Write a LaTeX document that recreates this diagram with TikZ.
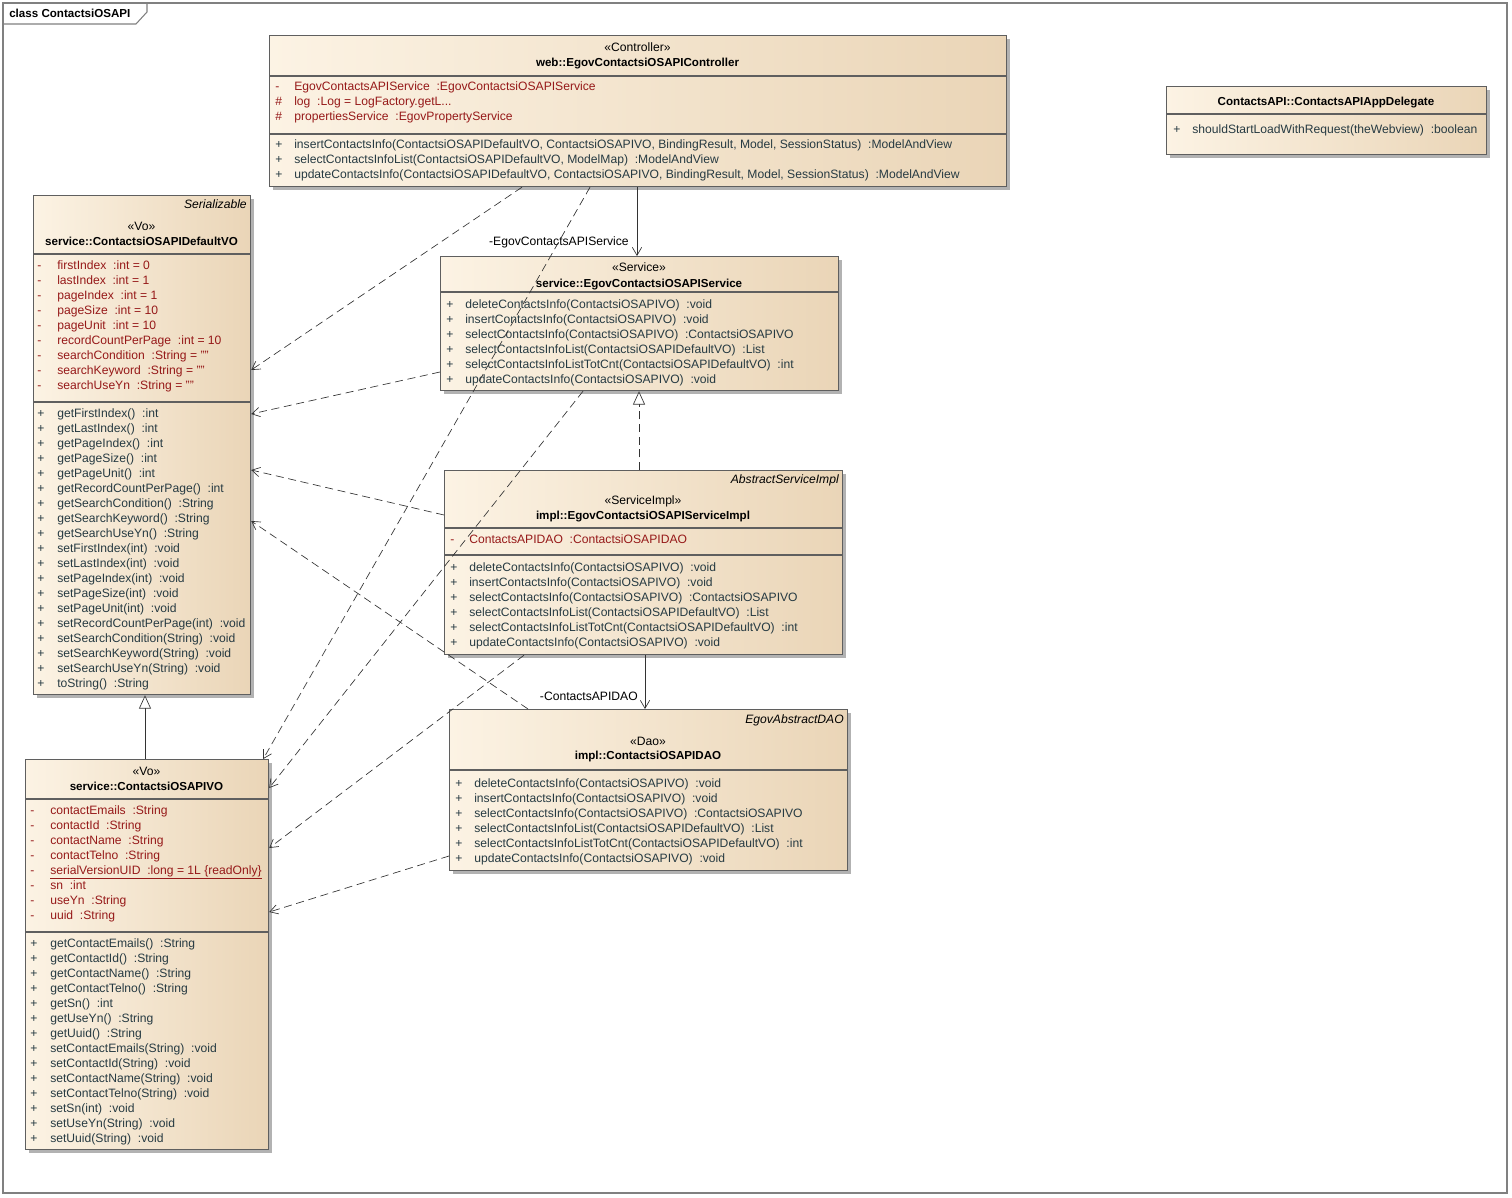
\documentclass[tikz,border=0pt]{standalone}
\usepackage{fontspec}
\setmainfont{Liberation Sans}
\usetikzlibrary{arrows.meta,positioning,calc,shadows}
\newdimen\upx \upx=0.75pt
\definecolor{attrred}{RGB}{150,25,25}
\definecolor{opgray}{RGB}{38,58,66}
\definecolor{boxleft}{RGB}{252,243,228}
\definecolor{boxright}{RGB}{234,213,183}
\definecolor{rulegray}{RGB}{95,95,95}

\begin{document}
\begin{tikzpicture}[x=0.75pt,y=-0.75pt,>=Latex,font=\fontsize{9.1}{11}\selectfont]
  \tikzstyle{cls}=[draw=rulegray,line width=0.9pt,anchor=north west,inner sep=0pt,left color=boxleft,right color=boxright,drop shadow={shadow xshift=2.2pt,shadow yshift=-2.2pt,fill=black,opacity=0.3}]
  \tikzstyle{sep}=[draw=rulegray,line width=0.9pt]
  \tikzstyle{hd}=[anchor=base,inner sep=0pt]
  \tikzstyle{nm}=[anchor=base,inner sep=0pt,font=\fontsize{8.7}{11}\selectfont\bfseries]
  \tikzstyle{abs}=[anchor=base east,inner sep=0pt,font=\fontsize{9.1}{11}\selectfont\itshape]
  \tikzstyle{attr}=[anchor=base west,inner sep=0pt,text=attrred]
  \tikzstyle{oper}=[anchor=base west,inner sep=0pt,text=opgray]
  \tikzstyle{lbl}=[anchor=base east,inner sep=0pt]
  \tikzstyle{dep}=[draw=black!80,line width=0.5pt,dash pattern=on 6pt off 3.5pt,-{Straight Barb[length=6pt,width=7pt]}]
  \tikzstyle{assoc}=[draw=black!80,line width=0.5pt,-{Straight Barb[length=6pt,width=7pt]}]
  \useasboundingbox (0,0) rectangle (1512,1198);

  % frame
  \draw[gray,line width=0.8pt] (3,3) rectangle (1507,1193);
  \draw[gray,line width=0.8pt] (3,24) -- (136,24) -- (147,12) -- (147,3);
  \node[anchor=base west,inner sep=0pt,font=\fontsize{8.7}{11}\selectfont\bfseries] (title) at (9,18) {class ContactsiOSAPI};

  % controller
  \node[cls,minimum width=737\upx,minimum height=151\upx] (ctrl) at (269,35) {};
  \draw[sep] (ctrl.west |- 0,76) -- (ctrl.east |- 0,76);
  \draw[sep] (ctrl.west |- 0,134) -- (ctrl.east |- 0,134);
  \node[hd] (ctrlst) at (637.5,52) {«Controller»};
  \node[nm] (ctrlnm) at (637.5,67) {web::EgovContactsiOSAPIController};
  \foreach \v/\t [count=\i] in {-/{EgovContactsAPIService ~:EgovContactsiOSAPIService},\#/{log ~:Log = LogFactory.getL...},\#/{propertiesService ~:EgovPropertyService}}
    \node[attr] (ctrla\i) at (275,76+15*\i) {\makebox[19\upx][l]{\v}\t};
  \foreach \t [count=\i] in {{insertContactsInfo(ContactsiOSAPIDefaultVO, ContactsiOSAPIVO, BindingResult, Model, SessionStatus) ~:ModelAndView},{selectContactsInfoList(ContactsiOSAPIDefaultVO, ModelMap) ~:ModelAndView},{updateContactsInfo(ContactsiOSAPIDefaultVO, ContactsiOSAPIVO, BindingResult, Model, SessionStatus) ~:ModelAndView}}
    \node[oper] (ctrlo\i) at (275,134+15*\i) {\makebox[19\upx][l]{+}\t};

  % app delegate
  \node[cls,minimum width=320\upx,minimum height=68\upx] (app) at (1166,86) {};
  \draw[sep] (app.west |- 0,114) -- (app.east |- 0,114);
  \node[nm] (appnm) at (1326,106) {ContactsAPI::ContactsAPIAppDelegate};
  \node[oper] (appo1) at (1173,134) {\makebox[19\upx][l]{+}shouldStartLoadWithRequest(theWebview) ~:boolean};

  % default VO
  \node[cls,minimum width=217\upx,minimum height=499\upx] (dvo) at (33,195) {};
  \draw[sep] (dvo.west |- 0,254) -- (dvo.east |- 0,254);
  \draw[sep] (dvo.west |- 0,402) -- (dvo.east |- 0,402);
  \node[abs] (dvoab) at (247,209) {Serializable};
  \node[hd] (dvost) at (141.5,231) {«Vo»};
  \node[nm] (dvonm) at (141.5,246) {service::ContactsiOSAPIDefaultVO};
  \foreach \t [count=\i] in {{firstIndex ~:int = 0},{lastIndex ~:int = 1},{pageIndex ~:int = 1},{pageSize ~:int = 10},{pageUnit ~:int = 10},{recordCountPerPage ~:int = 10},{searchCondition ~:String = ""},{searchKeyword ~:String = ""},{searchUseYn ~:String = ""}}
    \node[attr] (dvoa\i) at (37,254+15*\i) {\makebox[20\upx][l]{-}\t};
  \foreach \t [count=\i] in {{getFirstIndex() ~:int},{getLastIndex() ~:int},{getPageIndex() ~:int},{getPageSize() ~:int},{getPageUnit() ~:int},{getRecordCountPerPage() ~:int},{getSearchCondition() ~:String},{getSearchKeyword() ~:String},{getSearchUseYn() ~:String},{setFirstIndex(int) ~:void},{setLastIndex(int) ~:void},{setPageIndex(int) ~:void},{setPageSize(int) ~:void},{setPageUnit(int) ~:void},{setRecordCountPerPage(int) ~:void},{setSearchCondition(String) ~:void},{setSearchKeyword(String) ~:void},{setSearchUseYn(String) ~:void},{toString() ~:String}}
    \node[oper] (dvoo\i) at (37,402+15*\i) {\makebox[20\upx][l]{+}\t};

  % service
  \node[cls,minimum width=398\upx,minimum height=134\upx] (svc) at (440,256) {};
  \draw[sep] (svc.west |- 0,292) -- (svc.east |- 0,292);
  \node[hd] (svcst) at (639,272) {«Service»};
  \node[nm] (svcnm) at (639,287) {service::EgovContactsiOSAPIService};
  \foreach \t [count=\i] in {{deleteContactsInfo(ContactsiOSAPIVO) ~:void},{insertContactsInfo(ContactsiOSAPIVO) ~:void},{selectContactsInfo(ContactsiOSAPIVO) ~:ContactsiOSAPIVO},{selectContactsInfoList(ContactsiOSAPIDefaultVO) ~:List},{selectContactsInfoListTotCnt(ContactsiOSAPIDefaultVO) ~:int},{updateContactsInfo(ContactsiOSAPIVO) ~:void}}
    \node[oper] (svco\i) at (446,293+15*\i) {\makebox[19\upx][l]{+}\t};

  % service impl
  \node[cls,minimum width=398\upx,minimum height=184\upx] (impl) at (444,470) {};
  \draw[sep] (impl.west |- 0,528) -- (impl.east |- 0,528);
  \draw[sep] (impl.west |- 0,555) -- (impl.east |- 0,555);
  \node[abs] (implab) at (839,483) {AbstractServiceImpl};
  \node[hd] (implst) at (643,504) {«ServiceImpl»};
  \node[nm] (implnm) at (643,519) {impl::EgovContactsiOSAPIServiceImpl};
  \node[attr] (impla1) at (450,543) {\makebox[19\upx][l]{-}ContactsAPIDAO ~:ContactsiOSAPIDAO};
  \foreach \t [count=\i] in {{deleteContactsInfo(ContactsiOSAPIVO) ~:void},{insertContactsInfo(ContactsiOSAPIVO) ~:void},{selectContactsInfo(ContactsiOSAPIVO) ~:ContactsiOSAPIVO},{selectContactsInfoList(ContactsiOSAPIDefaultVO) ~:List},{selectContactsInfoListTotCnt(ContactsiOSAPIDefaultVO) ~:int},{updateContactsInfo(ContactsiOSAPIVO) ~:void}}
    \node[oper] (implo\i) at (450,556+15*\i) {\makebox[19\upx][l]{+}\t};

  % dao
  \node[cls,minimum width=398\upx,minimum height=161\upx] (dao) at (449,709) {};
  \draw[sep] (dao.west |- 0,770) -- (dao.east |- 0,770);
  \node[abs] (daoab) at (844,723) {EgovAbstractDAO};
  \node[hd] (daost) at (648,745) {«Dao»};
  \node[nm] (daonm) at (648,759) {impl::ContactsiOSAPIDAO};
  \foreach \t [count=\i] in {{deleteContactsInfo(ContactsiOSAPIVO) ~:void},{insertContactsInfo(ContactsiOSAPIVO) ~:void},{selectContactsInfo(ContactsiOSAPIVO) ~:ContactsiOSAPIVO},{selectContactsInfoList(ContactsiOSAPIDefaultVO) ~:List},{selectContactsInfoListTotCnt(ContactsiOSAPIDefaultVO) ~:int},{updateContactsInfo(ContactsiOSAPIVO) ~:void}}
    \node[oper] (daoo\i) at (455,772+15*\i) {\makebox[19\upx][l]{+}\t};

  % VO
  \node[cls,minimum width=243\upx,minimum height=390\upx] (vo) at (25,759) {};
  \draw[sep] (vo.west |- 0,799) -- (vo.east |- 0,799);
  \draw[sep] (vo.west |- 0,932) -- (vo.east |- 0,932);
  \node[hd] (vost) at (146.5,775) {«Vo»};
  \node[nm] (vonm) at (146.5,790) {service::ContactsiOSAPIVO};
  \foreach \t [count=\i] in {{contactEmails ~:String},{contactId ~:String},{contactName ~:String},{contactTelno ~:String},{\underline{serialVersionUID ~:long = 1L \{readOnly\}}},{sn ~:int},{useYn ~:String},{uuid ~:String}}
    \node[attr] (voa\i) at (30,799+15*\i) {\makebox[20\upx][l]{-}\t};
  \foreach \t [count=\i] in {{getContactEmails() ~:String},{getContactId() ~:String},{getContactName() ~:String},{getContactTelno() ~:String},{getSn() ~:int},{getUseYn() ~:String},{getUuid() ~:String},{setContactEmails(String) ~:void},{setContactId(String) ~:void},{setContactName(String) ~:void},{setContactTelno(String) ~:void},{setSn(int) ~:void},{setUseYn(String) ~:void},{setUuid(String) ~:void}}
    \node[oper] (voo\i) at (30,932+15*\i) {\makebox[20\upx][l]{+}\t};

  % associations
  \draw[assoc] ($(ctrl.south west)+(368,0)$) -- ($(svc.north west)+(197,0)$);
  \node[lbl] (svcrole) at ($(svc.north west)+(189,-10)$) {-EgovContactsAPIService};
  \draw[assoc] ($(impl.south west)+(201,0)$) -- ($(dao.north west)+(196,0)$);
  \node[lbl] (daorole) at ($(dao.north west)+(189,-9)$) {-ContactsAPIDAO};

  % realization and generalization
  \draw[draw=black!80,line width=0.5pt,dash pattern=on 6pt off 3.5pt,-{Triangle[fill=white,length=10pt,width=9pt]}] ($(impl.north west)+(195,0)$) -- ($(svc.south west)+(199,0)$);
  \draw[draw=black!80,line width=0.5pt,-{Triangle[fill=white,length=10pt,width=9pt]}] ($(vo.north west)+(120,0)$) -- ($(dvo.south west)+(112,0)$);

  % dependencies
  \draw[dep] ($(ctrl.south west)+(253,0)$) -- ($(dvo.north east)+(0,175)$);
  \draw[dep] ($(ctrl.south west)+(321,0)$) -- ($(vo.north east)+(-6,0)$);
  \draw[dep] ($(svc.north west)+(0,116)$) -- ($(dvo.north east)+(0,219)$);
  \draw[dep] ($(svc.south west)+(143,0)$) -- ($(vo.north east)+(0,29)$);
  \draw[dep] ($(impl.north west)+(0,45)$) -- ($(dvo.north east)+(0,275)$);
  \draw[dep] ($(impl.south west)+(80,0)$) -- ($(vo.north east)+(0,89)$);
  \draw[dep] ($(dao.north west)+(79,0)$) -- ($(dvo.north east)+(0,326)$);
  \draw[dep] ($(dao.north west)+(0,147)$) -- ($(vo.north east)+(0,153)$);
\end{tikzpicture}
\end{document}
